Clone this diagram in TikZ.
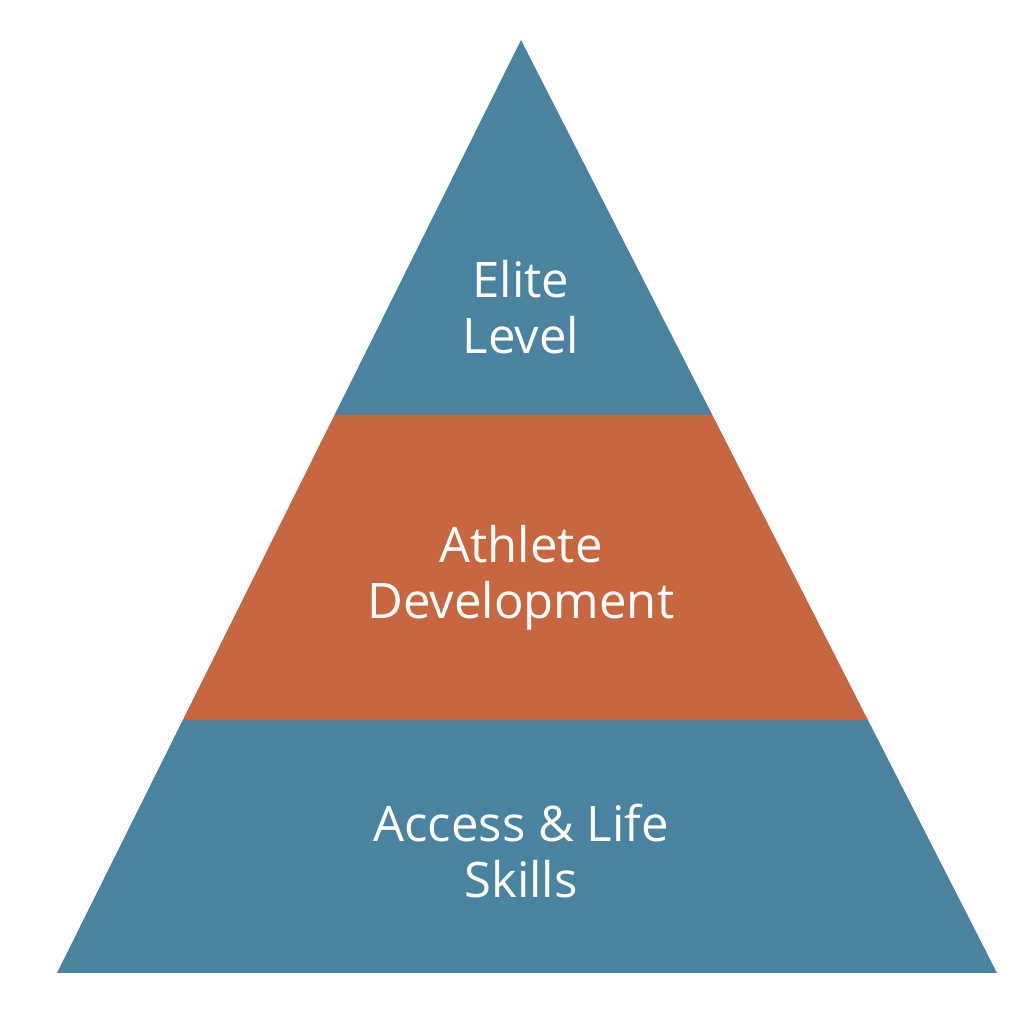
\documentclass[tikz,border=0pt]{standalone}
\usepackage{fontspec}
\setmainfont{Open Sans}
\usepackage{tikz}
\usetikzlibrary{calc}
\usepackage{xcolor}
\definecolor{tierblue}{HTML}{4A839F}
\definecolor{tierorange}{HTML}{C8663F}

\begin{document}
\begin{tikzpicture}[x=1pt, y=1pt, font=\fontsize{49}{56}\selectfont]
%
\useasboundingbox (0,0) rectangle (1024,1024);

%%% corners
\coordinate (apex) at (521,984);
\coordinate (base-l) at (57,51);
\coordinate (base-r) at (997,51);
\coordinate (top-l) at ($(apex)!0.4019!(base-l)$);
\coordinate (top-r) at ($(apex)!0.4019!(base-r)$);
\coordinate (mid-l) at ($(apex)!0.7288!(base-l)$);
\coordinate (mid-r) at ($(apex)!0.7288!(base-r)$);

%%% bands
\fill [tierblue] (apex) -- (top-r) -- (top-l) -- cycle;
\fill [tierorange] (top-l) -- (top-r) -- (mid-r) -- (mid-l) -- cycle;
\fill [tierblue] (mid-l) -- (mid-r) -- (base-r) -- (base-l) -- cycle;

%%% labels
\node [text=white, align=center, inner sep=0pt] (elite-lb) at (521,717) {Elite\\ Level};
\node [text=white, align=center, inner sep=0pt] (athlete-lb) at (521,446) {Athlete\\ Development};
\node [text=white, align=center, inner sep=0pt] (access-lb) at (521,173) {Access \& Life\\ Skills};

\end{tikzpicture}
\end{document}
